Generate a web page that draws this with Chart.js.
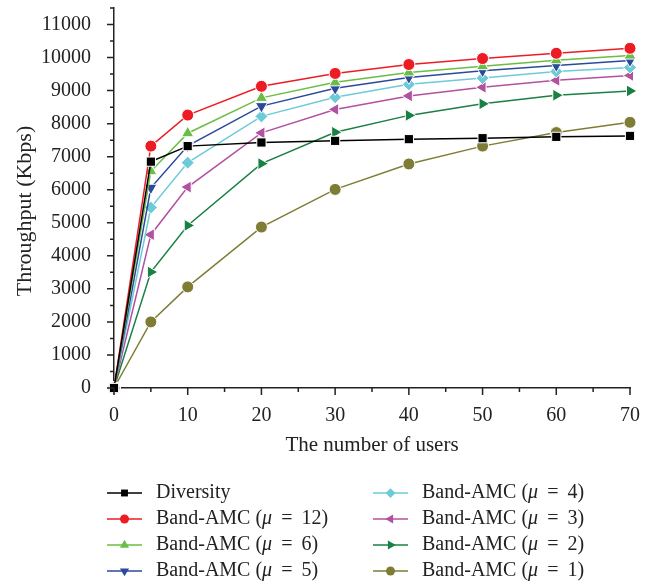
<!DOCTYPE html>
<html>
<head>
<meta charset="utf-8">
<script src="https://cdn.jsdelivr.net/npm/chart.js@4.4.1/dist/chart.umd.min.js"></script>
<style>
  html, body { margin: 0; padding: 0; background: #fff; }
</style>
</head>
<body>
<canvas id="chart" width="659" height="584"></canvas>
<script>
// values
const users     = [0, 5, 10, 20, 30, 40, 50, 60, 70];
const diversity = [0, 6850, 7320, 7430, 7480, 7530, 7560, 7600, 7630];
const mu12      = [0, 7320, 8260, 9130, 9520, 9790, 9970, 10130, 10280];
const mu6       = [0, 6560, 7710, 8780, 9250, 9550, 9740, 9920, 10060];
const mu5       = [0, 6060, 7330, 8530, 9070, 9400, 9600, 9760, 9910];
const mu4       = [0, 5460, 6820, 8220, 8800, 9190, 9380, 9580, 9700];
const mu3       = [0, 4640, 6080, 7720, 8430, 8840, 9100, 9310, 9460];
const mu2       = [0, 3510, 4920, 6790, 7740, 8250, 8600, 8860, 8990];
const mu1       = [0, 2000, 3060, 4870, 6010, 6780, 7320, 7730, 8040];

const xTicks = [0, 10, 20, 30, 40, 50, 60, 70];
const yTicks = [0, 1000, 2000, 3000, 4000, 5000, 6000, 7000, 8000, 9000, 10000, 11000];
const xMinor = [5, 15, 25, 35, 45, 55, 65];
const yMinor = [500, 1500, 2500, 3500, 4500, 5500, 6500, 7500, 8500, 9500, 10500, 11500];

const seriesNames = ['Diversity', 'Band-AMC (\u03bc = 12)', 'Band-AMC (\u03bc = 6)', 'Band-AMC (\u03bc = 5)',
                     'Band-AMC (\u03bc = 4)', 'Band-AMC (\u03bc = 3)', 'Band-AMC (\u03bc = 2)', 'Band-AMC (\u03bc = 1)'];
const seriesValues = [diversity, mu12, mu6, mu5, mu4, mu3, mu2, mu1];

// look of each series
const styles = [
  { color: '#000000', point: 'rect',     rot: 0,   r: 6.5 },
  { color: '#ed1c24', point: 'circle',   rot: 0,   r: 6 },
  { color: '#6abd45', point: 'triangle', rot: 0,   r: 7 },
  { color: '#2b4a9b', point: 'triangle', rot: 180, r: 7 },
  { color: '#6dcbd8', point: 'rectRot',  rot: 0,   r: 6.5 },
  { color: '#b2519f', point: 'triangle', rot: -90, r: 7 },
  { color: '#1a8043', point: 'triangle', rot: 90,  r: 7 },
  { color: '#7f7d35', point: 'circle',   rot: 0,   r: 6 }
];

const FONT = "'Liberation Serif', 'Times New Roman', serif";
const INK = '#222';

const datasets = seriesValues.map((vals, i) => ({
  label: seriesNames[i],
  data: users.map((u, j) => ({ x: u, y: vals[j] })),
  borderColor: styles[i].color,
  backgroundColor: styles[i].color,
  borderWidth: 1.5,
  pointStyle: styles[i].point,
  pointRotation: styles[i].rot,
  pointRadius: styles[i].r,
  pointHoverRadius: styles[i].r,
  pointBorderColor: '#fff',
  pointBorderWidth: 1,
  tension: 0,
  clip: false
}));

// minor/major tick marks, y title and the two-column legend
const decor = {
  id: 'decor',
  afterDraw(chart) {
    const ctx = chart.ctx;
    const xs = chart.scales.x, ys = chart.scales.y;
    const area = chart.chartArea;
    ctx.save();
    ctx.strokeStyle = INK;
    ctx.lineWidth = 1.5;
    ctx.beginPath();
    yTicks.forEach(v => { const p = ys.getPixelForValue(v); ctx.moveTo(area.left - 7, p); ctx.lineTo(area.left, p); });
    yMinor.forEach(v => { const p = ys.getPixelForValue(v); ctx.moveTo(area.left - 4, p); ctx.lineTo(area.left, p); });
    xTicks.forEach(v => { const p = xs.getPixelForValue(v); ctx.moveTo(p, area.bottom); ctx.lineTo(p, area.bottom + 7); });
    xMinor.forEach(v => { const p = xs.getPixelForValue(v); ctx.moveTo(p, area.bottom); ctx.lineTo(p, area.bottom + 4); });
    ctx.stroke();

    // y axis title
    ctx.fillStyle = INK;
    ctx.font = '22px ' + FONT;
    ctx.textAlign = 'center';
    ctx.textBaseline = 'middle';
    ctx.translate(25, 211);
    ctx.rotate(-Math.PI / 2);
    ctx.fillText('Throughput (Kbps)', 0, 0);
    ctx.restore();

    // legend
    ctx.save();
    ctx.textBaseline = 'middle';
    ctx.textAlign = 'left';
    const rowsY = [493, 519, 545, 571];
    const colX = [107, 373];
    chart.data.datasets.forEach((ds, i) => {
      const x0 = colX[Math.floor(i / 4)];
      const y0 = rowsY[i % 4];
      ctx.strokeStyle = ds.borderColor;
      ctx.lineWidth = 1.5;
      ctx.beginPath();
      ctx.moveTo(x0, y0);
      ctx.lineTo(x0 + 35, y0);
      ctx.stroke();
      ctx.fillStyle = ds.backgroundColor;
      ctx.strokeStyle = ds.backgroundColor;
      Chart.helpers.drawPoint(ctx, {
        pointStyle: ds.pointStyle, rotation: ds.pointRotation,
        radius: ds.pointRadius * 0.75, borderWidth: 0
      }, x0 + 17.5, y0);

      // label, with the mu in italics
      ctx.fillStyle = INK;
      let tx = x0 + 49;
      const label = ds.label;
      const k = label.indexOf('\u03bc');
      if (k < 0) {
        ctx.font = '20px ' + FONT;
        ctx.fillText(label, tx, y0);
      } else {
        const parts = [[label.slice(0, k), 'normal'], ['\u03bc', 'italic'], [label.slice(k + 1).replace('=', '\u2009=\u2009'), 'normal']];
        parts.forEach(([t, st]) => {
          ctx.font = (st === 'italic' ? 'italic ' : '') + '20px ' + FONT;
          ctx.fillText(t, tx, y0);
          tx += ctx.measureText(t).width;
        });
      }
    });
    ctx.restore();
  }
};

new Chart(document.getElementById('chart'), {
  type: 'line',
  data: { datasets },
  options: {
    responsive: false,
    animation: false,
    devicePixelRatio: 1,
    layout: { padding: { left: 0, top: 7, right: 29, bottom: 126 } },
    plugins: { legend: { display: false }, tooltip: { enabled: false } },
    scales: {
      x: {
        type: 'linear',
        min: 0, max: 70,
        afterBuildTicks: s => { s.ticks = xTicks.map(v => ({ value: v })); },
        afterFit: s => { s.height = 70; },
        grid: { display: false },
        border: { display: true, color: INK, width: 1.5 },
        ticks: { color: INK, padding: 8, font: { family: FONT, size: 20 }, callback: v => String(v) },
        title: {
          display: true, text: 'The number of users', color: INK,
          font: { family: FONT, size: 21 }, padding: { top: 0, bottom: 0 }
        }
      },
      y: {
        type: 'linear',
        min: 0, max: 11500,
        afterBuildTicks: s => { s.ticks = yTicks.map(v => ({ value: v })); },
        afterFit: s => { s.width = 114; s.paddingTop = 0; s.paddingBottom = 0; },
        grid: { display: false },
        border: { display: true, color: INK, width: 1.5 },
        ticks: { color: INK, padding: 15, font: { family: FONT, size: 20 }, callback: v => String(v) }
      }
    }
  },
  plugins: [decor]
});
</script>
</body>
</html>
